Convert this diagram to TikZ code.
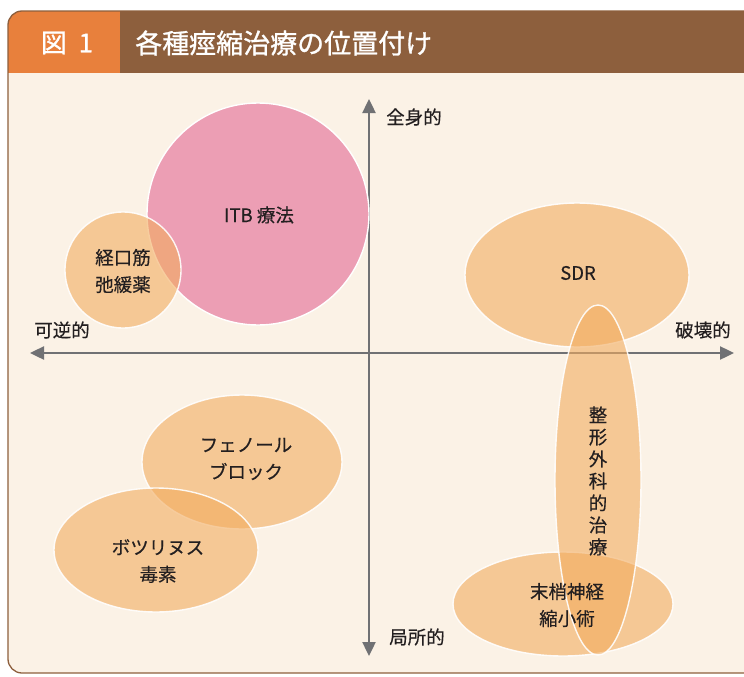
\documentclass[tikz,border=0pt]{standalone}
\usepackage{fontspec}
\setmainfont{Noto Sans CJK JP}
\newfontfamily\lblfont[FakeBold=0.4]{Noto Sans CJK JP}
\newfontfamily\headfont[FakeBold=1.0]{Noto Sans CJK JP}
\usetikzlibrary{shapes.geometric,arrows.meta}
\definecolor{cream}{RGB}{251,242,230}
\definecolor{headbrown}{RGB}{141,95,61}
\definecolor{headorange}{RGB}{232,128,60}
\definecolor{pinkfill}{RGB}{236,158,180}
\definecolor{orfill}{RGB}{242,172,95}
\definecolor{axisgray}{RGB}{112,113,116}
\definecolor{txt}{RGB}{35,31,32}
\tikzset{
  blob/.style={ellipse, draw=white, line width=1.4pt, fill=orfill, fill opacity=0.6, draw opacity=0.9, inner sep=0pt},
  lbl/.style={text=txt, font=\lblfont\fontsize{18.5}{27}\selectfont, align=center, inner sep=0pt},
  axis/.style={draw=axisgray, line width=2.4pt, {Triangle[width=13pt,length=14pt]}-{Triangle[width=13pt,length=14pt]}},
}
\begin{document}
\begin{tikzpicture}[x=1pt,y=-1pt]
\useasboundingbox (0,0) rectangle (744,677);
\fill[white] (0,0) rectangle (744,677);
% frame
\fill[cream, rounded corners=14pt] (8,11) rectangle (770,673);
\begin{scope}
  \clip[rounded corners=14pt] (8,11) rectangle (770,673);
  \fill[headbrown] (8,11) rectangle (770,73);
  \fill[headorange] (8,11) rectangle (120,73);
\end{scope}
\draw[headbrown, line width=1.3pt, rounded corners=14pt] (8,11) rectangle (770,673);
\node[text=white, font=\headfont\fontsize{26}{26}\selectfont, anchor=center] (fig) at (67,43) {図\hspace{0.45em}1};
\node[text=white, font=\headfont\fontsize{27}{27}\selectfont, anchor=west, inner sep=0pt] (title) at (135,43) {各種痙縮治療の位置付け};
% axes
\coordinate (L) at (30,353);
\coordinate (R) at (734,353);
\coordinate (T) at (369,99);
\coordinate (B) at (369,656);
\draw[axis] (L) -- (R);
\draw[axis] (B) -- (T);
\node[lbl] (top) at (414,117) {全身的};
\node[lbl] (bot) at (417,637) {局所的};
\node[lbl] (left) at (62,330) {可逆的};
\node[lbl] (right) at (703,330) {破壊的};
% shapes
\node[circle, draw=white, line width=1.4pt, fill=pinkfill, minimum size=222pt, inner sep=0pt] (itb) at (258,214) {};
\node[blob, minimum width=116pt, minimum height=116pt] (oral) at (123,270) {};
\node[blob, minimum width=224pt, minimum height=144pt] (sdr) at (577,275) {};
\node[blob, minimum width=200pt, minimum height=134pt] (phenol) at (242,462) {};
\node[blob, minimum width=204pt, minimum height=124pt] (botox) at (156,550) {};
\node[blob, minimum width=220pt, minimum height=104pt] (nerve) at (563,604) {};
\node[blob, minimum width=86pt, minimum height=350pt] (ortho) at (598,480) {};
% labels
\node[lbl] (itbt) at (259,215) {ITB 療法};
\node[lbl] (oralt) at (123,271) {経口筋\\弛緩薬};
\node[lbl] (sdrt) at (578,273) {SDR};
\node[lbl] (phenolt) at (246,459) {フェノール\\ブロック};
\node[lbl] (botoxt) at (158,561) {ボツリヌス\\毒素};
\node[lbl] (nervet) at (567,605) {末梢神経\\縮小術};
\node[lbl, font=\lblfont\fontsize{18.5}{22}\selectfont] (orthot) at (598,481) {整\\形\\外\\科\\的\\治\\療};
\end{tikzpicture}
\end{document}
